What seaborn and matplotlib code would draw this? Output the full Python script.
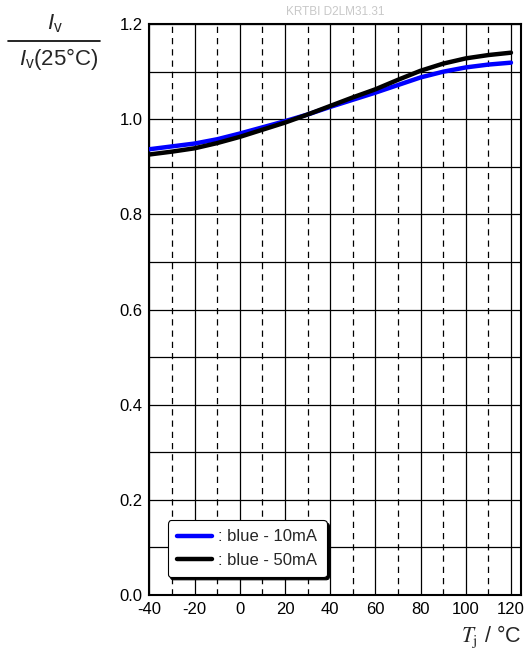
import matplotlib
matplotlib.use("Agg")
import matplotlib.pyplot as plt
import seaborn as sns
import pandas as pd
import numpy as np

# data
temps = [-40, -30, -20, -10, 0, 10, 20, 30, 40, 50, 60, 70, 80, 90, 100, 110, 120]
blue_10mA = [0.937, 0.943, 0.949, 0.958, 0.970, 0.983, 0.996, 1.010, 1.026, 1.041, 1.056, 1.072, 1.088, 1.100, 1.109, 1.115, 1.119]
blue_50mA = [0.926, 0.932, 0.939, 0.950, 0.963, 0.978, 0.993, 1.010, 1.028, 1.046, 1.063, 1.083, 1.102, 1.117, 1.128, 1.135, 1.140]
series_names = [": blue - 10mA", ": blue - 50mA"]
x_ticks = [-40, -20, 0, 20, 40, 60, 80, 100, 120]
y_ticks = [0.0, 0.2, 0.4, 0.6, 0.8, 1.0, 1.2]

df = pd.concat([
    pd.DataFrame({"T": temps, "Iv": blue_10mA, "series": series_names[0]}),
    pd.DataFrame({"T": temps, "Iv": blue_50mA, "series": series_names[1]}),
])

sns.set_theme(style="white")
plt.rcParams["font.family"] = ["Liberation Sans", "DejaVu Sans"]
plt.rcParams["mathtext.fontset"] = "custom"
plt.rcParams["mathtext.rm"] = "Liberation Sans"
plt.rcParams["mathtext.it"] = "Liberation Sans:italic"

fig = plt.figure(figsize=(5.28, 6.63), dpi=100)
ax = fig.add_axes([0.283, 0.1026, 0.704, 0.861])

sns.lineplot(data=df, x="T", y="Iv", hue="series", palette=["#0000ff", "#000000"],
             linewidth=3.2, ax=ax, legend=True, zorder=5)

ax.set_xlim(-40, 124.5)
ax.set_ylim(0, 1.2)
ax.set_xticks(x_ticks)
ax.set_xticklabels([str(v) for v in x_ticks])
ax.set_yticks(y_ticks)
ax.set_yticklabels([f"{v:.1f}" for v in y_ticks])
ax.set_xticks(np.arange(-30, 121, 20), minor=True)
ax.set_yticks(np.arange(0.1, 1.2, 0.2), minor=True)
ax.tick_params(which="both", direction="in", length=4, width=1, colors="black",
               labelsize=12, pad=5)
ax.tick_params(which="minor", length=0)

ax.xaxis.grid(True, which="major", color="black", lw=0.9, ls="-")
ax.xaxis.grid(True, which="minor", color="black", lw=0.9, ls=(0, (5, 4)))
ax.yaxis.grid(True, which="both", color="black", lw=0.9, ls="-")
ax.set_axisbelow(True)
for s in ax.spines.values():
    s.set_color("black")
    s.set_linewidth(1.5)
ax.set_xlabel("")
ax.set_ylabel("")

leg = ax.legend(loc="lower left", bbox_to_anchor=(0.049, 0.0315), borderaxespad=0,
                frameon=True, fancybox=True, shadow={"color": "black", "alpha": 1},
                fontsize=12, handlelength=2.1, handletextpad=0.4, labelspacing=0.5,
                borderpad=0.55)
leg.get_frame().set_edgecolor("black")
leg.get_frame().set_linewidth(0.8)
leg.get_frame().set_alpha(1)
leg.set_zorder(10)
for h in leg.get_lines():
    h.set_linewidth(3.2)

# y label as fraction
fig.text(55 / 528, 1 - 24 / 663, r"$I_\mathrm{v}$", ha="center", va="center", fontsize=16)
fig.add_artist(plt.Line2D([8 / 528, 100 / 528], [1 - 41 / 663, 1 - 41 / 663],
                          color="black", lw=1.2, transform=fig.transFigure))
fig.text(59 / 528, 1 - 59 / 663, r"$I_\mathrm{v}$(25°C)", ha="center", va="center", fontsize=16)

# x label
fig.text(521 / 528, 1 - 637 / 663, r"$T_\mathrm{j}$ / °C", ha="right", va="center",
         fontsize=15.5, math_fontfamily="stix")

# watermark
fig.text(335 / 528, 1 - 12 / 663, "KRTBI D2LM31.31", ha="center", va="center",
         fontsize=8.5, color="#c8c8c8")

fig.savefig("out.png", dpi=100)
